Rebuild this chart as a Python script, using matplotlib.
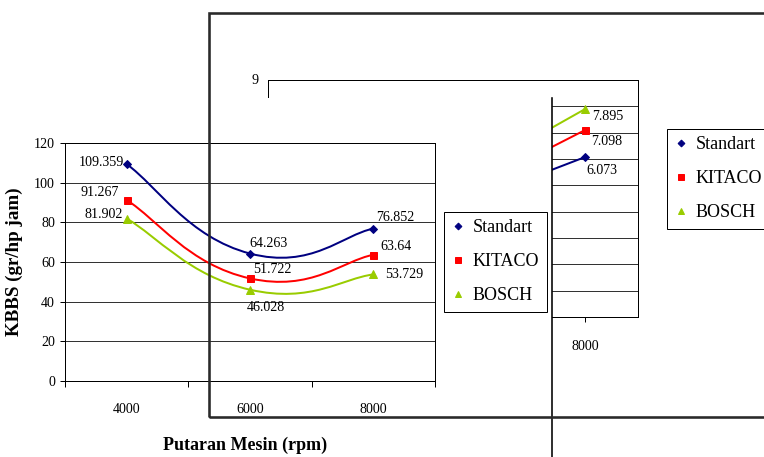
import numpy as np
import matplotlib
matplotlib.use('Agg')
import matplotlib.pyplot as plt
from matplotlib.path import Path
from matplotlib.patches import PathPatch, Rectangle
from matplotlib.lines import Line2D

# data
rpm = ['4000', '6000', '8000']
standart = [109.359, 64.263, 76.852]
kitaco = [91.267, 51.722, 63.64]
bosch = [81.902, 46.028, 53.729]

# the half-hidden chart on the right (only the 8000 point is visible,
# the 6000 values are estimated from the slope of the cut lines)
frag_rpm = ['6000', '8000']
frag_standart = [4.87, 6.073]
frag_kitaco = [5.50, 7.098]
frag_bosch = [6.13, 7.895]

series_names = ['Standart', 'KITACO', 'BOSCH']
colors = ['#000080', '#FF0000', '#99CC00']
markers = ['D', 's', '^']
msizes = [6, 7, 8]

W, H = 764, 457
plt.rcParams['font.family'] = ['Liberation Serif', 'DejaVu Serif']


def fx(px):
    return px / W


def fy(py):
    return 1 - py / H


def smooth_path(xs, ys, k=0.25):
    # excel style smoothed line as cubic bezier segments
    pts = np.column_stack([xs, ys]).astype(float)
    n = len(pts)
    verts = [pts[0]]
    codes = [Path.MOVETO]
    for i in range(n - 1):
        p0 = pts[max(i - 1, 0)]
        p1 = pts[i]
        p2 = pts[i + 1]
        p3 = pts[min(i + 2, n - 1)]
        verts += [p1 + k * (p2 - p0), p2 - k * (p3 - p1), p2]
        codes += [Path.CURVE4] * 3
    return Path(verts, codes)


def draw_series(ax, xs, values, labels_off, fs):
    handles = []
    for vals, name, c, m, ms, offs in zip(values, series_names, colors,
                                          markers, msizes, labels_off):
        ax.add_patch(PathPatch(smooth_path(xs, vals), fill=False,
                               edgecolor=c, lw=2, zorder=3))
        h, = ax.plot(xs[-len(offs):], vals[-len(offs):], ls='none',
                     marker=m, ms=ms, color=c, mec=c, zorder=4, label=name)
        handles.append(h)
        for x, v, (dx, dy, ha) in zip(xs[-len(offs):], vals[-len(offs):], offs):
            ax.annotate(f'{v:g}', (x, v), xytext=(dx, dy),
                        textcoords='offset points', ha=ha, va='center',
                        fontsize=fs, zorder=5)
    return handles


def make_legend(fig, handles, left, top):
    leg = fig.legend(handles=handles, loc='upper left',
                     bbox_to_anchor=(fx(left), fy(top)),
                     bbox_transform=fig.transFigure, borderaxespad=0,
                     fontsize=18, handlelength=0.8, handletextpad=0.4,
                     borderpad=0.4, labelspacing=0.95, markerscale=0.8,
                     fancybox=False, framealpha=1, edgecolor='black')
    leg.get_frame().set_linewidth(1)
    return leg


def main():
    fig = plt.figure(figsize=(W / 72, H / 72), dpi=72)

    # main chart
    ax = fig.add_axes([fx(65), fy(381), (435 - 65) / W, (381 - 143) / H])
    x = np.arange(len(rpm))
    main_offsets = [
        [(-3, 2, 'right'), (-1, 10, 'left'), (3, 11, 'left')],
        [(-8, 7, 'right'), (3, 9, 'left'), (7, 8, 'left')],
        [(-4, 4, 'right'), (-3, -18, 'left'), (12, 0, 'left')],
    ]
    handles = draw_series(ax, x, [standart, kitaco, bosch], main_offsets, 14)
    ax.set_xlim(-0.5, 2.5)
    ax.set_ylim(0, 120)
    ax.set_yticks(np.arange(0, 121, 20))
    ax.set_xticks([-0.5, 0.5, 1.5, 2.5])
    ax.set_xticklabels([])
    ax.set_xticks(x, minor=True)
    ax.set_xticklabels(rpm, minor=True)
    ax.tick_params(axis='x', which='major', length=6, width=1, direction='out')
    ax.tick_params(axis='x', which='minor', length=0, pad=22, labelsize=14)
    ax.tick_params(axis='y', length=5, width=1, pad=5, labelsize=14)
    ax.grid(axis='y', color='black', lw=0.8)
    ax.set_axisbelow(True)
    for sp in ax.spines.values():
        sp.set_color('black')
        sp.set_linewidth(1)
    ax.set_ylabel('KBBS (gr/hp jam)', fontsize=19, fontweight='bold')
    ax.yaxis.set_label_coords(-0.114, 0.502)
    ax.set_xlabel('Putaran Mesin (rpm)', fontsize=18, fontweight='bold')
    ax.xaxis.set_label_coords(0.486, -0.232)
    make_legend(fig, handles, 444, 212)

    # partly hidden second chart on the right
    ax2 = fig.add_axes([fx(552), fy(317), (638 - 552) / W, (317 - 80) / H])
    xf = np.array([1.0, 2.0])
    frag_offsets = [[(1, -13, 'left')], [(6, -11, 'left')], [(7, -7, 'left')]]
    handles2 = draw_series(ax2, xf, [frag_standart, frag_kitaco, frag_bosch],
                           frag_offsets, 14)
    ax2.set_xlim(1.6, 2.642)
    ax2.set_ylim(0, 9)
    ax2.set_yticks(np.arange(0, 10))
    ax2.set_yticklabels([])
    ax2.tick_params(axis='y', length=0)
    ax2.set_xticks([2.0])
    ax2.set_xticklabels([frag_rpm[-1]])
    ax2.tick_params(axis='x', length=5, width=1, pad=18, labelsize=14)
    ax2.grid(axis='y', color='black', lw=0.8)
    ax2.set_axisbelow(True)
    ax2.spines['left'].set_visible(False)
    for s in ['top', 'right', 'bottom']:
        ax2.spines[s].set_color('black')
        ax2.spines[s].set_linewidth(1)
    for t in ax2.texts:
        t.set_clip_on(False)
    make_legend(fig, handles2, 667, 129)

    # leftover axis pieces of the hidden chart
    fig.add_artist(Line2D([fx(552), fx(552)], [fy(98), 0], color='black', lw=1.6))
    fig.add_artist(Line2D([fx(268), fx(552)], [fy(80), fy(80)], color='black', lw=1))
    fig.add_artist(Line2D([fx(268), fx(268)], [fy(80), fy(97)], color='black', lw=1))
    fig.text(fx(259), fy(80), '9', ha='right', va='center', fontsize=14)

    # thick frame laid over everything
    fig.add_artist(Rectangle((fx(209), fy(417)), 1.0, (417 - 13) / H,
                             transform=fig.transFigure, fill=False,
                             edgecolor='#2a2a2a', lw=2.6, zorder=10))

    fig.savefig('out.png', dpi=72)


if __name__ == '__main__':
    main()
